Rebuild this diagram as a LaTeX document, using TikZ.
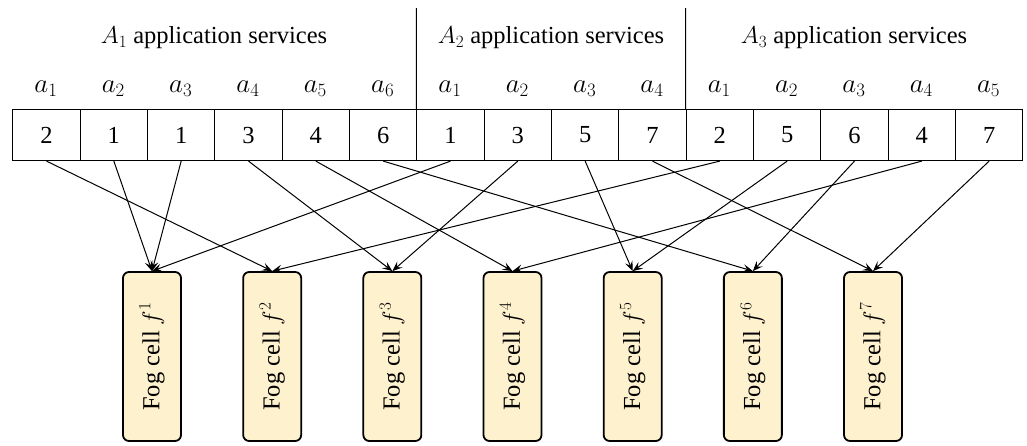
\RequirePackage{fix-cm}
\documentclass[tikz,border=0pt]{standalone}
\usepackage{fontspec}
\setmainfont{Liberation Serif}
\newfontfamily\labelfont{Liberation Serif}
\usetikzlibrary{arrows.meta}
\definecolor{fogfill}{RGB}{253,241,206}
\begin{document}
\begin{tikzpicture}[x=1pt,y=-1pt,
  font=\labelfont\fontsize{24.5}{28}\selectfont,
  cellbox/.style={draw, line width=1.1pt, minimum width=67.33pt, minimum height=51pt,
    inner sep=0pt, anchor=north west},
  svclabel/.style={font=\labelfont\fontsize{27}{30}\selectfont},
  fogbox/.style={draw, line width=1.8pt, rounded corners=6pt, fill=fogfill,
    minimum width=58pt, minimum height=169pt, inner sep=0pt},
  link/.style={line width=1pt, -{Stealth[length=10pt,width=8pt,inset=4pt]}},
  sep/.style={line width=1pt}]
\useasboundingbox (0,0) rectangle (1027,445);

% group titles
\node (t1) at (214,38) {$A_1$ application services};
\node (t2) at (551,38) {$A_2$ application services};
\node (t3) at (854,38) {$A_3$ application services};

% service assignment array
\foreach \v [count=\i from 0] in {2,1,1,3,4,6,1,3,5,7,2,5,6,4,7}
  \node[cellbox] (c\i) at ({12.3+67.33*\i},109) {\v};

% service labels
\foreach \k [count=\i from 0] in {1,2,3,4,5,6,1,2,3,4,1,2,3,4,5}
  \node[svclabel] (l\i) at ({46+67.33*\i},89) {$a_{\k}$};

% group separators
\coordinate (s1) at (416.3,8);
\coordinate (s2) at (685.6,8);
\draw[sep] (c6.north west) -- (s1);
\draw[sep] (c10.north west) -- (s2);

% fog cells
\foreach \j in {1,...,7}
  \node[fogbox] (f\j) at ({152+120.17*(\j-1)},356.5)
    {\rotatebox{90}{Fog cell $f^{\j}$}};

% placement of each service on a fog cell
\foreach \v [count=\i from 0] in {2,1,1,3,4,6,1,3,5,7,2,5,6,4,7}
  \draw[link] (c\i.south) -- (f\v.north);
\end{tikzpicture}
\end{document}
